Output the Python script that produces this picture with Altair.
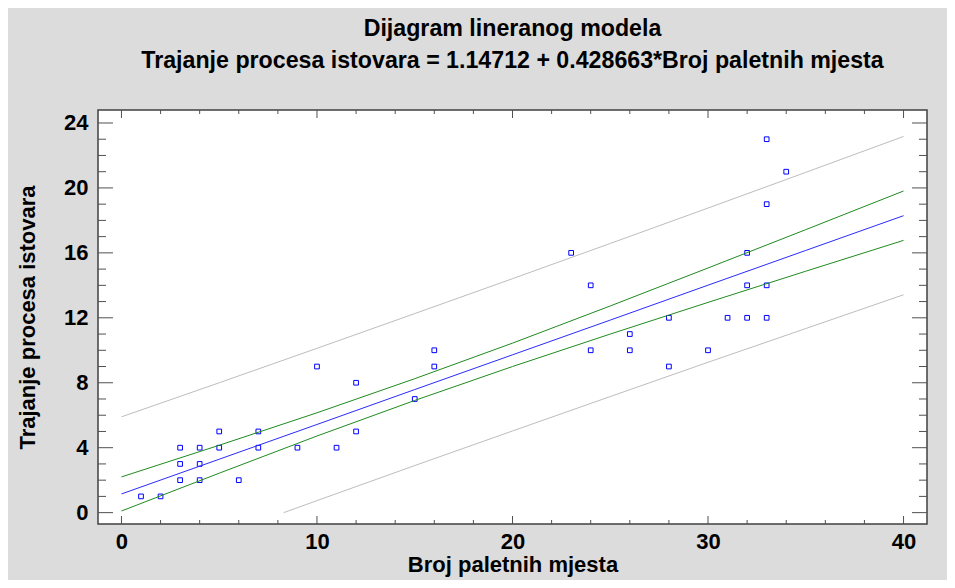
import altair as alt
import pandas as pd

# ---- data ----
x_pts = [1, 2, 3, 3, 3, 4, 4, 4, 5, 5, 6, 7, 7, 9, 10, 11, 12, 12, 15, 16, 16,
         23, 24, 24, 26, 26, 28, 28, 30, 31, 32, 32, 32, 33, 33, 33, 33, 34]
y_pts = [1, 1, 2, 3, 4, 2, 3, 4, 4, 5, 2, 4, 5, 4, 9, 4, 5, 8, 7, 9, 10,
         16, 10, 14, 10, 11, 9, 12, 10, 12, 12, 14, 16, 12, 14, 19, 23, 21]

band_x = [0, 5, 10, 15, 20, 25, 30, 35, 40]
fit_y = [1.15, 3.29, 5.43, 7.58, 9.72, 11.86, 14.01, 16.15, 18.29]
conf_lo = [0.10, 2.43, 4.72, 6.91, 9.00, 11.00, 12.95, 14.87, 16.77]
conf_hi = [2.20, 4.15, 6.15, 8.25, 10.44, 12.73, 15.07, 17.43, 19.81]
pred_hi = [5.90, 8.00, 10.12, 12.26, 14.41, 16.58, 18.76, 20.96, 23.17]
pred_lo_x = [8.3, 10, 15, 20, 25, 30, 35, 40]
pred_lo_y = [0.0, 0.74, 2.90, 5.03, 7.15, 9.26, 11.34, 13.42]

x_labels = [0, 10, 20, 30, 40]
y_labels = [0, 4, 8, 12, 16, 20, 24]
x_minor = [2, 4, 6, 8, 12, 14, 16, 18, 22, 24, 26, 28, 32, 34, 36, 38]
y_minor = [1, 2, 3, 5, 6, 7, 9, 10, 11, 13, 14, 15, 17, 18, 19, 21, 22, 23]

title_lines = ["Dijagram lineranog modela",
               "Trajanje procesa istovara = 1.14712 + 0.428663*Broj paletnih mjesta"]
x_title = "Broj paletnih mjesta"
y_title = "Trajanje procesa istovara"

# ---- layout / style ----
W, H = 829, 414
FONT = "Liberation Sans"
TICK = "#505050"
xscale = alt.Scale(domain=[-1.2, 41.2], nice=False, zero=False)
yscale = alt.Scale(domain=[-0.7, 24.8], nice=False, zero=False)

points = alt.Chart(pd.DataFrame({"x": x_pts, "y": y_pts})).mark_point(
    shape="square", filled=False, color="#0000ff", size=22, strokeWidth=1, opacity=1
).encode(
    x=alt.X("x:Q", scale=xscale, title=x_title,
            axis=alt.Axis(values=x_labels, ticks=False, tickSize=0, domain=False, grid=False,
                          labelFont=FONT, labelFontSize=22, labelFontWeight="bold",
                          labelColor="black", labelPadding=7,
                          titleFont=FONT, titleFontSize=22, titleFontWeight="bold",
                          titleColor="black", titlePadding=2)),
    y=alt.Y("y:Q", scale=yscale, title=y_title,
            axis=alt.Axis(values=y_labels, ticks=False, tickSize=0, domain=False, grid=False,
                          labelFont=FONT, labelFontSize=22, labelFontWeight="bold",
                          labelColor="black", labelPadding=10,
                          titleFont=FONT, titleFontSize=22, titleFontWeight="bold",
                          titleColor="black", titlePadding=24)),
)


def line(xs, ys, color):
    return alt.Chart(pd.DataFrame({"x": xs, "y": ys})).mark_line(
        color=color, strokeWidth=1, clip=True
    ).encode(
        x=alt.X("x:Q", scale=xscale),
        y=alt.Y("y:Q", scale=yscale),
    )


lines = [
    line(band_x, pred_hi, "#bdbdbd"),
    line(pred_lo_x, pred_lo_y, "#bdbdbd"),
    line(band_x, conf_hi, "#1f8a1f"),
    line(band_x, conf_lo, "#1f8a1f"),
    line(band_x, fit_y, "#2a2aff"),
]


def xticks(vals, length, top):
    enc = dict(x=alt.X("v:Q", scale=xscale))
    if top:
        enc.update(y=alt.value(0), y2=alt.value(length))
    else:
        enc.update(y=alt.value(H), y2=alt.value(H - length))
    return alt.Chart(pd.DataFrame({"v": vals})).mark_rule(color=TICK, strokeWidth=1).encode(**enc)


def yticks(vals, length, right):
    enc = dict(y=alt.Y("v:Q", scale=yscale))
    if right:
        enc.update(x=alt.value(W), x2=alt.value(W - length))
    else:
        enc.update(x=alt.value(0), x2=alt.value(length))
    return alt.Chart(pd.DataFrame({"v": vals})).mark_rule(color=TICK, strokeWidth=1).encode(**enc)


ticks = [
    xticks(x_labels, 8, False), xticks(x_minor, 4, False),
    xticks(x_labels, 8, True), xticks(x_minor, 4, True),
    yticks(y_labels, 15, False), yticks(y_minor, 8, False),
    yticks(y_labels, 15, True), yticks(y_minor, 8, True),
]

chart = alt.layer(points, *lines, *ticks).properties(
    width=W, height=H,
    title=alt.TitleParams(text=title_lines, font=FONT, fontSize=23.2, fontWeight="bold",
                          color="black", anchor="middle", lineHeight=32, offset=36),
    padding={"left": 90, "top": 102, "right": 20, "bottom": 56},
    autosize=alt.AutoSizeParams(type="none"),
).configure(background="#dcdcdc").configure_view(
    fill="white", stroke="#404040", strokeWidth=1.5
)

chart.save("out.html", embed_options={"renderer": "svg", "actions": False})
